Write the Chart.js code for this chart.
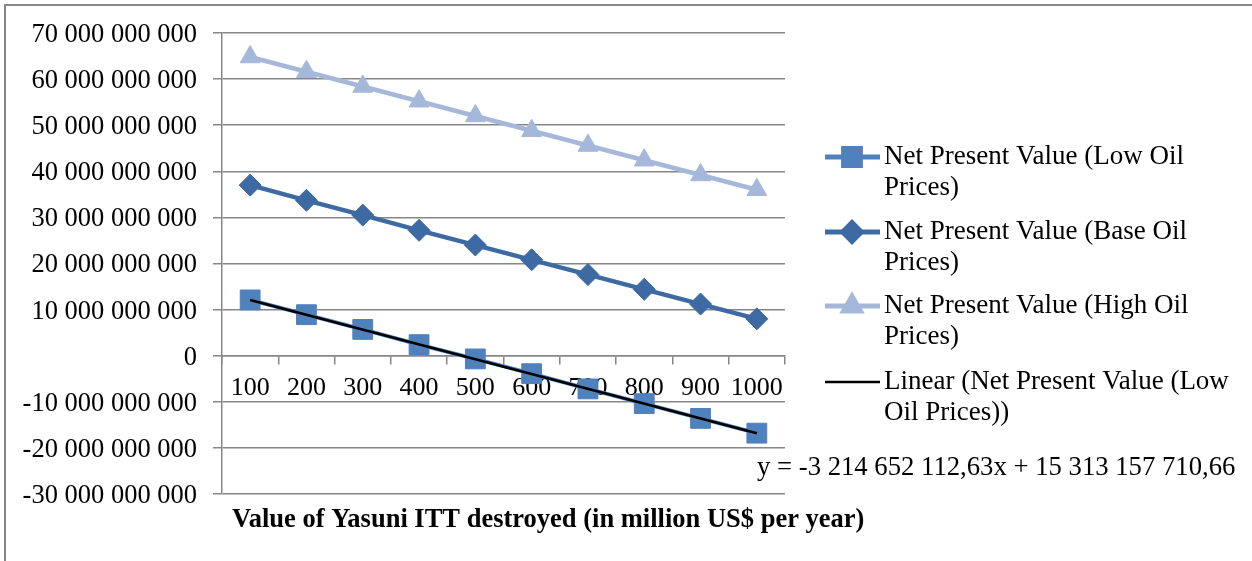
<!DOCTYPE html>
<html>
<head>
<meta charset="utf-8">
<script src="https://cdn.jsdelivr.net/npm/chart.js@4"></script>
<style>
  html, body { margin: 0; padding: 0; background: #fff; }
  #wrap { width: 1252px; height: 561px; position: relative; }
</style>
</head>
<body>
<div id="wrap"><canvas id="npv-chart"></canvas></div>
<script>
// Data (values in US$)
const categories = ['100', '200', '300', '400', '500', '600', '700', '800', '900', '1000'];
const lowOil  = [12.1e9, 8.9e9, 5.7e9, 2.4e9, -0.7e9, -3.9e9, -7.2e9, -10.4e9, -13.6e9, -16.8e9];
const baseOil = [37.0e9, 33.7e9, 30.5e9, 27.2e9, 24.0e9, 20.8e9, 17.6e9, 14.4e9, 11.2e9, 8.0e9];
const highOil = [64.8e9, 61.6e9, 58.4e9, 55.2e9, 52.0e9, 48.8e9, 45.6e9, 42.4e9, 39.2e9, 36.0e9];
// trend line end points
const lowTrend = [12.1e9, null, null, null, null, null, null, null, null, -16.83e9];

const seriesNames = [
    ['Net Present Value (Low Oil', 'Prices)'],
    ['Net Present Value (Base Oil', 'Prices)'],
    ['Net Present Value (High Oil', 'Prices)'],
    ['Linear (Net Present Value (Low', 'Oil Prices))']
];
const equation = 'y = -3 214 652 112,63x + 15 313 157 710,66';
const xTitle = 'Value of Yasuni ITT destroyed (in million US$ per year)';

const FONT = '"Liberation Serif", "Times New Roman", serif';
const GRID = '#878787';

function fmt(v) {
    const s = Math.abs(v).toFixed(0).replace(/\B(?=(\d{3})+(?!\d))/g, ' ');
    return (v < 0 ? '-' : '') + s;
}

// frame, legend, axis title and equation
const extras = {
    id: 'extras',
    afterDraw(chart) {
        const ctx = chart.ctx;
        ctx.save();
        ctx.strokeStyle = GRID;
        ctx.lineWidth = 2;
        ctx.beginPath();
        ctx.moveTo(1252, 5);
        ctx.lineTo(5, 5);
        ctx.lineTo(5, 561);
        ctx.stroke();

        ctx.fillStyle = '#000';
        ctx.textBaseline = 'middle';
        ctx.font = 'bold 26.5px ' + FONT;
        ctx.textAlign = 'left';
        ctx.fillText(xTitle, 232, 520);

        ctx.font = '26.7px ' + FONT;
        ctx.fillText(equation, 757, 468);

        const ys = [157, 232, 306, 382];
        chart.data.datasets.forEach((ds, i) => {
            const y = ys[i];
            ctx.strokeStyle = ds.borderColor;
            ctx.lineWidth = ds.pointRadius > 0 ? 5 : 2.5;
            ctx.beginPath();
            ctx.moveTo(825, y);
            ctx.lineTo(880, y);
            ctx.stroke();
            if (ds.pointStyle && ds.pointRadius > 0) {
                ctx.fillStyle = ds.backgroundColor;
                ctx.strokeStyle = ds.borderColor;
                Chart.helpers.drawPoint(ctx, {
                    pointStyle: ds.pointStyle,
                    radius: ds.pointRadius * 0.85,
                    borderWidth: 1,
                    rotation: 0
                }, 852, y);
            }
            ctx.fillStyle = '#000';
            ctx.font = '27px ' + FONT;
            ctx.fillText(seriesNames[i][0], 884, y);
            ctx.fillText(seriesNames[i][1], 884, y + 31);
        });
        ctx.restore();
    }
};

new Chart(document.getElementById('npv-chart'), {
    type: 'line',
    data: {
        labels: categories,
        datasets: [
            {
                label: seriesNames[0].join(' '),
                data: lowOil,
                borderColor: '#4F81BD',
                backgroundColor: '#4F81BD',
                borderWidth: 4,
                pointStyle: 'rect',
                pointRadius: 14,
                pointBorderWidth: 1,
                order: 1
            },
            {
                label: seriesNames[1].join(' '),
                data: baseOil,
                borderColor: '#3D6AA2',
                backgroundColor: '#3D6AA2',
                borderWidth: 4.5,
                pointStyle: 'rectRot',
                pointRadius: 11,
                pointBorderWidth: 1,
                order: 2
            },
            {
                label: seriesNames[2].join(' '),
                data: highOil,
                borderColor: '#A6B8DA',
                backgroundColor: '#A6B8DA',
                borderWidth: 4.5,
                pointStyle: 'triangle',
                pointRadius: 11.5,
                pointBorderWidth: 1,
                order: 3
            },
            {
                label: seriesNames[3].join(' '),
                data: lowTrend,
                borderColor: '#000000',
                backgroundColor: '#000000',
                borderWidth: 2.5,
                pointRadius: 0,
                spanGaps: true,
                order: 0
            }
        ]
    },
    options: {
        responsive: true,
        maintainAspectRatio: false,
        animation: false,
        events: [],
        layout: { padding: { left: 0, top: 33, right: 467, bottom: 67 } },
        plugins: {
            legend: { display: false },
            tooltip: { enabled: false }
        },
        scales: {
            x: {
                position: { y: 0 },
                offset: true,
                grid: {
                    offset: true,
                    drawOnChartArea: false,
                    drawTicks: true,
                    tickLength: 8,
                    color: GRID,
                    lineWidth: 1.5
                },
                border: { display: true, color: GRID, width: 1.5 },
                ticks: {
                    color: '#000',
                    font: { family: FONT, size: 26 },
                    autoSkip: false,
                    maxRotation: 0,
                    padding: 9
                }
            },
            y: {
                min: -30e9,
                max: 70e9,
                afterFit(scale) { scale.width = 222; },
                grid: {
                    color: GRID,
                    lineWidth: 1.5,
                    tickLength: 9
                },
                border: { display: true, color: GRID, width: 1.5 },
                ticks: {
                    stepSize: 10e9,
                    color: '#000',
                    font: { family: FONT, size: 26.5 },
                    padding: 16,
                    labelOffset: 2,
                    callback: (v) => fmt(v)
                }
            }
        }
    },
    plugins: [extras]
});
</script>
</body>
</html>
